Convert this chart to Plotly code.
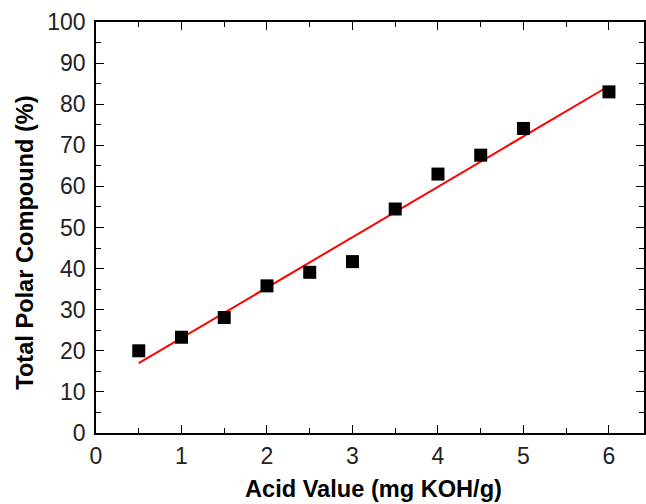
import numpy as np
import plotly.graph_objects as go

acid_value = [0.5, 1.0, 1.5, 2.0, 2.5, 3.0, 3.5, 4.0, 4.5, 5.0, 6.0]
tpc = [20.0, 23.3, 28.1, 35.8, 39.1, 41.7, 54.5, 63.0, 67.6, 74.1, 83.0]

x_title = "Acid Value (mg KOH/g)"
y_title = "Total Polar Compound (%)"

slope, intercept = np.polyfit(acid_value, tpc, 1)
fit_x = [min(acid_value), max(acid_value)]
fit_y = [slope * v + intercept for v in fit_x]

font_family = "Liberation Sans, Arial, sans-serif"
title_font = dict(family=font_family, size=23.6, color="black", weight="bold")

fig = go.Figure()
fig.add_trace(go.Scatter(x=fit_x, y=fit_y, mode="lines",
                         line=dict(color="#ff0000", width=2), showlegend=False))
fig.add_trace(go.Scatter(x=acid_value, y=tpc, mode="markers",
                         marker=dict(symbol="square", size=13, color="black"),
                         showlegend=False))

axis_common = dict(
    showline=True, linecolor="black", linewidth=1.5, mirror="ticks",
    ticks="inside", ticklen=8, tickwidth=1.3, tickcolor="black",
    showgrid=False, zeroline=False,
    tickfont=dict(family=font_family, size=23, color="#222"),
)

fig.update_xaxes(range=[0, 6.41], dtick=1, tick0=0,
                 minor=dict(ticks="inside", ticklen=5, dtick=0.5, tick0=0, tickcolor="black", tickwidth=1.3),
                 ticklabelstandoff=2,
                 **axis_common)
fig.update_yaxes(range=[0, 100], dtick=10, tick0=0,
                 minor=dict(ticks="inside", ticklen=5, dtick=5, tick0=0, tickcolor="black", tickwidth=1.3),
                 ticklabelstandoff=4,
                 **axis_common)

fig.add_annotation(text=x_title, xref="paper", yref="paper", x=0.507, y=-0.137,
                   xanchor="center", yanchor="middle", showarrow=False, font=title_font)
fig.add_annotation(text=y_title, xref="paper", yref="paper", x=-0.1309, y=0.4635,
                   xanchor="center", yanchor="middle", textangle=-90, showarrow=False, font=title_font)

fig.update_layout(
    width=646, height=504,
    margin=dict(l=96, r=0, t=22, b=71),
    plot_bgcolor="white", paper_bgcolor="white",
)

fig.write_html("out.html")
